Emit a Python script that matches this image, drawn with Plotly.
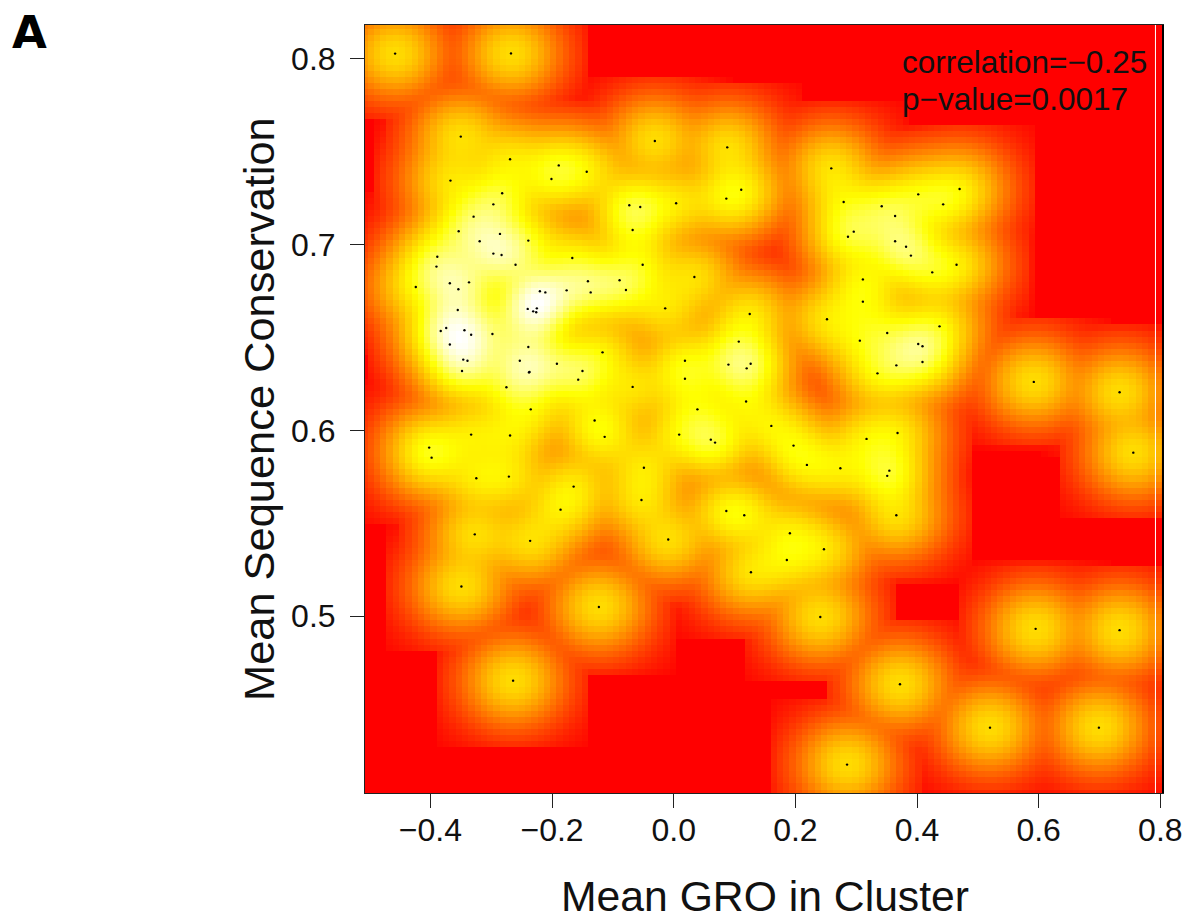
import numpy as np
import plotly.graph_objects as go

gro = [-0.458,-0.2675,-0.350,-0.031,0.088,-0.269,-0.189,-0.143,-0.201,-0.367,-0.282,0.111,0.0865,-0.2965,-0.073,-0.055,0.004,-0.329,-0.3535,-0.2856,-0.0675,-0.239,-0.319,-0.3886,-0.2965,-0.283,-0.1667,-0.390,-0.260,-0.051,0.034,-0.368,-0.3365,-0.141,-0.089,-0.424,-0.354,-0.220,-0.211,-0.176,-0.1365,-0.0785,-0.014,-0.355,-0.240,-0.225,-0.231,-0.226,0.125,-0.374,-0.383,-0.344,-0.333,-0.298,-0.368,-0.239,0.107,-0.117,-0.346,-0.339,-0.253,-0.192,0.0185,0.090,0.1265,0.120,-0.348,-0.237,-0.238,-0.150,-0.157,0.0185,-0.275,-0.0675,0.119,-0.235,0.039,
       0.259,0.2794,0.470,0.402,0.443,0.342,0.364,0.296,0.2865,0.364,0.382,0.390,0.465,0.425,0.311,0.311,0.252,0.437,0.351,0.306,0.402,0.409,0.409,0.366,0.335,0.592,0.733,
       -0.333,-0.269,-0.402,-0.398,-0.130,-0.1135,0.009,0.061,0.068,-0.049,-0.3245,-0.271,-0.1645,-0.053,-0.186,0.0865,0.116,-0.327,-0.236,-0.009,0.127,-0.349,-0.123,-0.264,
       0.1605,0.368,0.317,0.197,0.219,0.274,0.3545,0.351,0.7556,0.366,0.191,0.247,0.186,0.241,0.595,0.733,0.372,0.520,0.699,0.285]
cons = [0.8029,0.803,0.7582,0.7558,0.7524,0.746,0.7427,0.7393,0.7354,0.7345,0.7277,0.7296,0.7248,0.7217,0.7212,0.7203,0.7223,0.7151,0.7072,0.7058,0.7079,0.7022,0.7018,0.6935,0.6952,0.6944,0.6928,0.6882,0.6892,0.6892,0.6826,0.6792,0.6797,0.6803,0.6808,0.6772,0.676,0.6749,0.6743,0.6754,0.6743,0.6756,0.6657,0.6648,0.6654,0.6657,0.6641,0.6636,0.6627,0.6551,0.6535,0.6539,0.6515,0.6519,0.6462,0.6449,0.6478,0.642,0.6381,0.6375,0.6375,0.6359,0.6375,0.6354,0.6359,0.6334,0.632,0.6314,0.6312,0.632,0.6273,0.6278,0.6232,0.6234,0.6155,0.6113,0.6113,
        0.7411,0.723,0.73,0.7271,0.7217,0.7207,0.7154,0.707,0.7043,0.7018,0.6989,0.6941,0.6892,0.6851,0.6813,0.6693,0.6598,0.656,0.6524,0.6483,0.6465,0.6453,0.6368,0.635,0.6307,0.6261,0.6205,
        0.5977,0.5972,0.5907,0.5853,0.6053,0.5965,0.5977,0.595,0.5934,0.5799,0.5742,0.5751,0.5697,0.5625,0.5573,0.5566,0.5543,0.544,0.5405,0.5412,0.5236,0.5159,0.5049,0.4652,
        0.6024,0.5986,0.5954,0.5918,0.5814,0.5796,0.5783,0.5755,0.588,0.5543,0.5446,0.536,0.5302,0.4995,0.4931,0.4924,0.4633,0.4399,0.4399,0.42]

x_ticks = [-0.4,-0.2,0.0,0.2,0.4,0.6,0.8]
y_ticks = [0.5,0.6,0.7,0.8]
x_title = "Mean GRO in Cluster"
y_title = "Mean Sequence Conservation"
corr_text = "correlation=\u22120.25"
pval_text = "p\u2212value=0.0017"
panel = "A"

# smoothScatter-style density (linear binning + truncated Gaussian, then ^0.25)
BW = (0.0337, 0.0100)
N = 128
TAU = 3.4
gx, gy = np.asarray(gro), np.asarray(cons)
xg = np.linspace(gx.min()-1.5*BW[0], gx.max()+1.5*BW[0], N)
yg = np.linspace(gy.min()-1.5*BW[1], gy.max()+1.5*BW[1], N)
dx, dy = xg[1]-xg[0], yg[1]-yg[0]
counts = np.zeros((N, N))
for a, b in zip(gx, gy):
    fx, fy = (a-xg[0])/dx, (b-yg[0])/dy
    i, j = int(fx), int(fy)
    rx, ry = fx-i, fy-j
    counts[j, i] += (1-rx)*(1-ry)
    counts[j, min(i+1, N-1)] += rx*(1-ry)
    counts[min(j+1, N-1), i] += (1-rx)*ry
    counts[min(j+1, N-1), min(i+1, N-1)] += rx*ry
Lx, Ly = int(TAU*BW[0]/dx), int(TAU*BW[1]/dy)
kx = np.exp(-0.5*(np.arange(-Lx, Lx+1)*dx/BW[0])**2)
ky = np.exp(-0.5*(np.arange(-Ly, Ly+1)*dy/BW[1])**2)
dens = np.apply_along_axis(lambda r: np.convolve(r, kx, mode="same"), 1, counts)
dens = np.apply_along_axis(lambda c: np.convolve(c, ky, mode="same"), 0, dens)
dens = np.clip(dens, 0, None)**0.25

scale = [[0, "rgb(255,0,0)"], [0.75, "rgb(255,255,0)"], [1, "rgb(255,255,255)"]]

W, H = 1187, 916
L, R, T, B = 365, 1163, 25, 793
PW, PH = R-L, B-T
def px(v): return (v-L)/PW
def py(v): return 1-(v-T)/PH

fig = go.Figure()
fig.add_trace(go.Heatmap(x=xg, y=yg, z=dens, colorscale=scale, showscale=False,
                         zmin=0, zmax=float(dens.max()), zsmooth=False, hoverinfo="skip"))
fig.add_trace(go.Scatter(x=gro, y=cons, mode="markers",
                         marker=dict(color="black", size=2.4, line=dict(width=0)), hoverinfo="skip"))
axis_font = dict(family="Liberation Sans", size=32, color="#111")
note_font = dict(family="Liberation Sans", size=31.5, color="#111")
fig.update_layout(
    width=W, height=H, autosize=False, showlegend=False,
    paper_bgcolor="white", plot_bgcolor="red",
    margin=dict(l=L, r=W-R, t=T, b=H-B, pad=0),
    xaxis=dict(range=[-0.5075, 0.8044], tickvals=x_ticks, ticktext=[f"{v:.1f}".replace("-", "\u2212") for v in x_ticks],
               ticks="outside", ticklen=14, tickwidth=1, tickcolor="#222", showgrid=False, zeroline=False,
               showline=True, mirror=True, linecolor="#222", linewidth=1, tickfont=axis_font, ticklabelstandoff=-5, automargin=False),
    yaxis=dict(range=[0.4047, 0.8183], tickvals=y_ticks, ticktext=[f"{v:.1f}" for v in y_ticks],
               ticks="outside", ticklen=14, tickwidth=1, tickcolor="#222", showgrid=False, zeroline=False,
               showline=True, mirror=True, linecolor="#222", linewidth=1, tickfont=axis_font, ticklabelstandoff=8, automargin=False),
    annotations=[
        dict(text=x_title, xref="paper", yref="paper", x=px(765), y=py(896), xanchor="center", yanchor="middle",
             showarrow=False, font=dict(family="Liberation Sans", size=42.7, color="#111")),
        dict(text=y_title, xref="paper", yref="paper", x=px(259), y=py(409), xanchor="center", yanchor="middle",
             showarrow=False, font=dict(family="Liberation Sans", size=43.4, color="#111"), textangle=-90),
        dict(text=corr_text, xref="paper", yref="paper", x=px(903), y=py(62), xanchor="left", yanchor="middle",
             showarrow=False, font=note_font, borderpad=0, xshift=-2),
        dict(text=pval_text, xref="paper", yref="paper", x=px(903), y=py(99), xanchor="left", yanchor="middle",
             showarrow=False, font=note_font, borderpad=0, xshift=-2),
        dict(text=panel, xref="paper", yref="paper", x=px(12), y=py(33), xanchor="left", yanchor="middle",
             showarrow=False, font=dict(family="DejaVu Sans", size=45, color="black", weight="bold"), borderpad=0, xshift=-1),
    ],
    shapes=[
        dict(type="line", xref="x", yref="paper", x0=0.792, x1=0.792, y0=0, y1=1, line=dict(color="white", width=1)),
        dict(type="line", xref="paper", yref="paper", x0=1, x1=1, y0=0, y1=1, line=dict(color="black", width=2)),
    ],
)
fig.write_html("out.html", config={"displayModeBar": False},
               post_script="document.body.style.margin='0';document.documentElement.style.overflow='hidden';")
